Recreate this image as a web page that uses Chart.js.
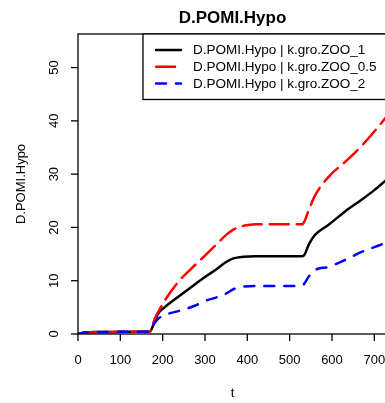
<!DOCTYPE html>
<html>
<head>
<meta charset="utf-8">
<script src="https://cdn.jsdelivr.net/npm/chart.js@4"></script>
<style>
  body { margin: 0; overflow: hidden; background: #fff; }
  canvas { display: block; }
</style>
</head>
<body>
<canvas id="myChart" width="430" height="403"></canvas>
<script>
const times = [0, 10, 25, 50, 100, 150, 170, 176, 182, 190, 206, 237, 276, 300, 328, 350, 367, 391, 420, 480, 530, 536, 542, 548, 560, 592, 631, 670, 700, 730];
const zoo1 = [0, 0.2, 0.33, 0.38, 0.4, 0.42, 0.45, 1.3, 2.6, 3.9, 5.1, 7.0, 9.3, 10.7, 12.2, 13.5, 14.2, 14.5, 14.6, 14.6, 14.6, 15.0, 16.2, 17.2, 18.6, 20.5, 23.0, 25.2, 27.0, 29.0];
const zoo05 = [0, 0.2, 0.33, 0.38, 0.4, 0.42, 0.45, 1.6, 3.0, 4.2, 6.4, 9.8, 12.9, 14.7, 16.9, 18.6, 19.6, 20.3, 20.6, 20.6, 20.6, 21.3, 22.6, 23.8, 26.0, 29.5, 32.3, 35.3, 38.0, 40.9];
const zoo2 = [0, 0.2, 0.33, 0.38, 0.4, 0.42, 0.45, 1.3, 2.2, 2.9, 3.6, 4.3, 5.3, 6.2, 6.9, 7.6, 8.4, 8.9, 9.0, 9.0, 9.1, 9.6, 10.4, 11.1, 12.0, 12.6, 13.9, 15.4, 16.3, 17.2];
const seriesLabels = ["D.POMI.Hypo | k.gro.ZOO_1", "D.POMI.Hypo | k.gro.ZOO_0.5", "D.POMI.Hypo | k.gro.ZOO_2"];
const xTicks = [0, 100, 200, 300, 400, 500, 600, 700];
const yTicks = [0, 10, 20, 30, 40, 50];

const FONT = '"Liberation Sans", Arial, sans-serif';
const toPoints = (vals) => vals.map((v, i) => ({ x: times[i], y: v }));

// draws the R-like frame, ticks, titles and legend
const rStyle = {
  id: "rStyle",
  afterDraw(chart) {
    const { ctx, chartArea: a, scales: { x, y } } = chart;
    ctx.save();
    ctx.strokeStyle = "#000";
    ctx.fillStyle = "#000";
    ctx.lineWidth = 1.3;
    ctx.strokeRect(a.left, a.top, a.right - a.left, a.bottom - a.top);

    ctx.font = "13px " + FONT;
    ctx.textAlign = "center";
    ctx.textBaseline = "middle";
    xTicks.forEach((t) => {
      const px = x.getPixelForValue(t);
      ctx.beginPath();
      ctx.moveTo(px, a.bottom);
      ctx.lineTo(px, a.bottom + 7);
      ctx.stroke();
      ctx.fillText(String(t), px, 360);
    });
    yTicks.forEach((t) => {
      const py = y.getPixelForValue(t);
      ctx.beginPath();
      ctx.moveTo(a.left, py);
      ctx.lineTo(a.left - 7, py);
      ctx.stroke();
      ctx.save();
      ctx.translate(54, py);
      ctx.rotate(-Math.PI / 2);
      ctx.fillText(String(t), 0, 0);
      ctx.restore();
    });

    // axis titles
    ctx.fillText("t", (a.left + a.right) / 2, 393);
    ctx.save();
    ctx.translate(21.5, (a.top + a.bottom) / 2);
    ctx.rotate(-Math.PI / 2);
    ctx.fillText("D.POMI.Hypo", 0, 0);
    ctx.restore();

    ctx.font = "bold 17px " + FONT;
    ctx.fillText("D.POMI.Hypo", (a.left + a.right) / 2, 18.5);

    // legend
    const lx = 143, ly = a.top, lw = a.right - 143, lh = 65.5;
    ctx.fillStyle = "#fff";
    ctx.fillRect(lx, ly, lw, lh);
    ctx.lineWidth = 1.3;
    ctx.strokeRect(lx, ly, lw, lh);
    ctx.font = "13.5px " + FONT;
    ctx.textAlign = "left";
    chart.data.datasets.forEach((ds, i) => {
      const cy = 50 + i * 16.7;
      ctx.save();
      ctx.strokeStyle = ds.borderColor;
      ctx.lineWidth = ds.borderWidth;
      ctx.lineCap = "round";
      ctx.setLineDash(ds.borderDash || []);
      ctx.beginPath();
      ctx.moveTo(156, cy);
      ctx.lineTo(181, cy);
      ctx.stroke();
      ctx.restore();
      ctx.fillStyle = "#000";
      ctx.fillText(seriesLabels[i], 193, cy + 0.5);
    });
    ctx.restore();
  },
};

const ctx = document.getElementById("myChart").getContext("2d");
new Chart(ctx, {
  type: "line",
  data: {
    datasets: [
      {
        label: seriesLabels[0],
        data: toPoints(zoo1),
        borderColor: "#000000",
        borderWidth: 2.5,
        borderCapStyle: "round",
        order: 2,
      },
      {
        label: seriesLabels[1],
        data: toPoints(zoo05),
        borderColor: "#ff0000",
        borderWidth: 2.5,
        borderDash: [19, 8],
        borderCapStyle: "round",
        order: 1,
      },
      {
        label: seriesLabels[2],
        data: toPoints(zoo2),
        borderColor: "#0000ff",
        borderWidth: 2.5,
        borderDash: [10, 10],
        borderCapStyle: "round",
        order: 0,
      },
    ],
  },
  options: {
    responsive: false,
    animation: false,
    devicePixelRatio: 1,
    layout: { padding: { left: 78, right: 43, top: 34, bottom: 69 } },
    elements: {
      point: { radius: 0 },
      line: { cubicInterpolationMode: "monotone", fill: false },
    },
    plugins: { legend: { display: false }, tooltip: { enabled: false } },
    scales: {
      x: { type: "linear", display: false, min: 0, max: 730 },
      y: { type: "linear", display: false, min: 0, max: 56.3 },
    },
  },
  plugins: [rStyle],
});
</script>
</body>
</html>
